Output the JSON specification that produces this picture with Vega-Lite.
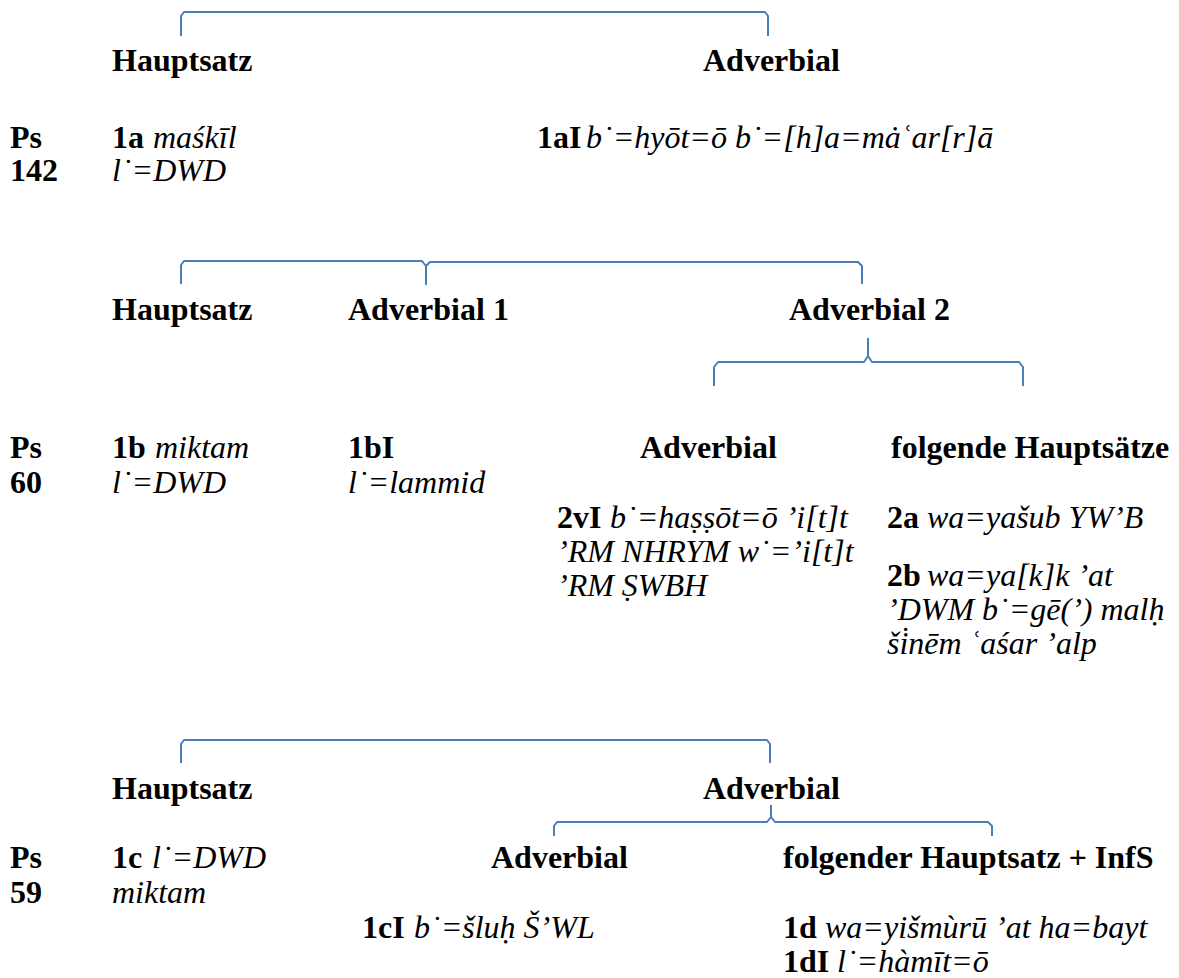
{
  "$schema": "https://vega.github.io/schema/vega-lite/v6.json",
  "width": 1179,
  "height": 978,
  "autosize": {"type": "fit", "contains": "padding"},
  "padding": 0,
  "background": "white",
  "config": {"view": {"stroke": null}},
  "datasets": {
    "brackets": [
      {"b": "s1", "i": 1, "x": 181, "y": 36}, {"b": "s1", "i": 2, "x": 181, "y": 16}, {"b": "s1", "i": 3, "x": 184, "y": 12}, {"b": "s1", "i": 4, "x": 765, "y": 12}, {"b": "s1", "i": 5, "x": 768, "y": 16}, {"b": "s1", "i": 6, "x": 768, "y": 36},
      {"b": "s2a", "i": 1, "x": 181, "y": 284}, {"b": "s2a", "i": 2, "x": 181, "y": 265}, {"b": "s2a", "i": 3, "x": 184, "y": 261}, {"b": "s2a", "i": 4, "x": 422, "y": 261}, {"b": "s2a", "i": 5, "x": 426, "y": 266}, {"b": "s2a", "i": 6, "x": 426, "y": 285},
      {"b": "s2b", "i": 1, "x": 426, "y": 266}, {"b": "s2b", "i": 2, "x": 430, "y": 262}, {"b": "s2b", "i": 3, "x": 858, "y": 262}, {"b": "s2b", "i": 4, "x": 862, "y": 266}, {"b": "s2b", "i": 5, "x": 862, "y": 284},
      {"b": "b2l", "i": 1, "x": 714, "y": 386}, {"b": "b2l", "i": 2, "x": 714, "y": 367}, {"b": "b2l", "i": 3, "x": 718, "y": 362}, {"b": "b2l", "i": 4, "x": 864, "y": 362}, {"b": "b2l", "i": 5, "x": 868, "y": 356}, {"b": "b2l", "i": 6, "x": 868, "y": 338},
      {"b": "b2r", "i": 1, "x": 868, "y": 356}, {"b": "b2r", "i": 2, "x": 872, "y": 362}, {"b": "b2r", "i": 3, "x": 1019, "y": 362}, {"b": "b2r", "i": 4, "x": 1023, "y": 367}, {"b": "b2r", "i": 5, "x": 1023, "y": 386},
      {"b": "s3", "i": 1, "x": 181, "y": 763}, {"b": "s3", "i": 2, "x": 181, "y": 744}, {"b": "s3", "i": 3, "x": 184, "y": 740}, {"b": "s3", "i": 4, "x": 767, "y": 740}, {"b": "s3", "i": 5, "x": 770, "y": 744}, {"b": "s3", "i": 6, "x": 770, "y": 763},
      {"b": "b3l", "i": 1, "x": 554, "y": 836}, {"b": "b3l", "i": 2, "x": 554, "y": 826}, {"b": "b3l", "i": 3, "x": 557, "y": 822}, {"b": "b3l", "i": 4, "x": 767, "y": 822}, {"b": "b3l", "i": 5, "x": 771, "y": 817}, {"b": "b3l", "i": 6, "x": 771, "y": 805},
      {"b": "b3r", "i": 1, "x": 771, "y": 817}, {"b": "b3r", "i": 2, "x": 775, "y": 822}, {"b": "b3r", "i": 3, "x": 988, "y": 822}, {"b": "b3r", "i": 4, "x": 992, "y": 826}, {"b": "b3r", "i": 5, "x": 992, "y": 836}
    ],
    "texts": [
      {"role": "bold", "x": 112, "y": 71, "t": "Hauptsatz"},
      {"role": "bold", "x": 703, "y": 71, "t": "Adverbial"},
      {"role": "bold", "x": 10, "y": 148, "t": "Ps"},
      {"role": "bold", "x": 10, "y": 181, "t": "142"},
      {"role": "bold", "x": 112, "y": 148, "t": "1a"},
      {"role": "ital", "x": 153, "y": 148, "t": "maśkīl"},
      {"role": "ital", "x": 112, "y": 181, "t": "l˙=DWD"},
      {"role": "bold", "x": 537, "y": 148, "t": "1aI"},
      {"role": "ital", "x": 586, "y": 148, "t": "b˙=hyōt=ō b˙=[h]a=mȧʿar[r]ā"},

      {"role": "bold", "x": 112, "y": 320, "t": "Hauptsatz"},
      {"role": "bold", "x": 348, "y": 320, "t": "Adverbial 1"},
      {"role": "bold", "x": 789, "y": 320, "t": "Adverbial 2"},
      {"role": "bold", "x": 10, "y": 458, "t": "Ps"},
      {"role": "bold", "x": 10, "y": 493, "t": "60"},
      {"role": "bold", "x": 112, "y": 458, "t": "1b"},
      {"role": "ital", "x": 155, "y": 458, "t": "miktam"},
      {"role": "ital", "x": 112, "y": 493, "t": "l˙=DWD"},
      {"role": "bold", "x": 348, "y": 458, "t": "1bI"},
      {"role": "ital", "x": 348, "y": 493, "t": "l˙=lammid"},
      {"role": "bold", "x": 640, "y": 458, "t": "Adverbial"},
      {"role": "bold", "x": 891, "y": 458, "t": "folgende Hauptsätze"},
      {"role": "bold", "x": 557, "y": 528, "t": "2vI"},
      {"role": "ital", "x": 610, "y": 528, "t": "b˙=haṣṣōt=ō ’i[t]t"},
      {"role": "ital", "x": 557, "y": 562, "t": "’RM NHRYM w˙=’i[t]t"},
      {"role": "ital", "x": 557, "y": 596, "t": "’RM ṢWBH"},
      {"role": "bold", "x": 887, "y": 528, "t": "2a"},
      {"role": "ital", "x": 927, "y": 528, "t": "wa=yašub YW’B"},
      {"role": "bold", "x": 887, "y": 586, "t": "2b"},
      {"role": "ital", "x": 927, "y": 586, "t": "wa=ya[k]k ’at"},
      {"role": "ital", "x": 887, "y": 620, "t": "’DWM b˙=gē(’) malḥ"},
      {"role": "ital", "x": 887, "y": 654, "t": "ši̇nēm ʿaśar ’alp"},

      {"role": "bold", "x": 112, "y": 799, "t": "Hauptsatz"},
      {"role": "bold", "x": 703, "y": 799, "t": "Adverbial"},
      {"role": "bold", "x": 10, "y": 868, "t": "Ps"},
      {"role": "bold", "x": 10, "y": 903, "t": "59"},
      {"role": "bold", "x": 112, "y": 868, "t": "1c"},
      {"role": "ital", "x": 152, "y": 868, "t": "l˙=DWD"},
      {"role": "ital", "x": 112, "y": 903, "t": "miktam"},
      {"role": "bold", "x": 491, "y": 868, "t": "Adverbial"},
      {"role": "bold", "x": 783, "y": 868, "t": "folgender Hauptsatz + InfS"},
      {"role": "bold", "x": 362, "y": 938, "t": "1cI"},
      {"role": "ital", "x": 414, "y": 938, "t": "b˙=šluḥ Š’WL"},
      {"role": "bold", "x": 783, "y": 938, "t": "1d"},
      {"role": "ital", "x": 825, "y": 938, "t": "wa=yišmùrū ’at ha=bayt"},
      {"role": "bold", "x": 783, "y": 972, "t": "1dI"},
      {"role": "ital", "x": 837, "y": 972, "t": "l˙=hàmīt=ō"}
    ]
  },
  "layer": [
    {
      "data": {"name": "brackets"},
      "mark": {"type": "line", "color": "#4A7EBB", "strokeWidth": 2, "strokeJoin": "round"},
      "encoding": {
        "x": {"field": "x", "type": "quantitative", "scale": {"domain": [0, 1179], "nice": false, "zero": false}, "axis": null},
        "y": {"field": "y", "type": "quantitative", "scale": {"domain": [0, 978], "nice": false, "zero": false, "reverse": true}, "axis": null},
        "detail": {"field": "b"},
        "order": {"field": "i", "type": "quantitative"}
      }
    },
    {
      "data": {"name": "texts"},
      "transform": [{"filter": "datum.role === 'bold'"}],
      "mark": {"type": "text", "align": "left", "baseline": "alphabetic", "font": "Liberation Serif", "fontSize": 32, "fontWeight": "bold", "color": "black"},
      "encoding": {
        "x": {"field": "x", "type": "quantitative", "scale": {"domain": [0, 1179], "nice": false, "zero": false}, "axis": null},
        "y": {"field": "y", "type": "quantitative", "scale": {"domain": [0, 978], "nice": false, "zero": false, "reverse": true}, "axis": null},
        "text": {"field": "t"}
      }
    },
    {
      "data": {"name": "texts"},
      "transform": [{"filter": "datum.role === 'ital'"}],
      "mark": {"type": "text", "align": "left", "baseline": "alphabetic", "font": "Liberation Serif", "fontSize": 32, "fontStyle": "italic", "color": "black"},
      "encoding": {
        "x": {"field": "x", "type": "quantitative", "scale": {"domain": [0, 1179], "nice": false, "zero": false}, "axis": null},
        "y": {"field": "y", "type": "quantitative", "scale": {"domain": [0, 978], "nice": false, "zero": false, "reverse": true}, "axis": null},
        "text": {"field": "t"}
      }
    }
  ]
}
